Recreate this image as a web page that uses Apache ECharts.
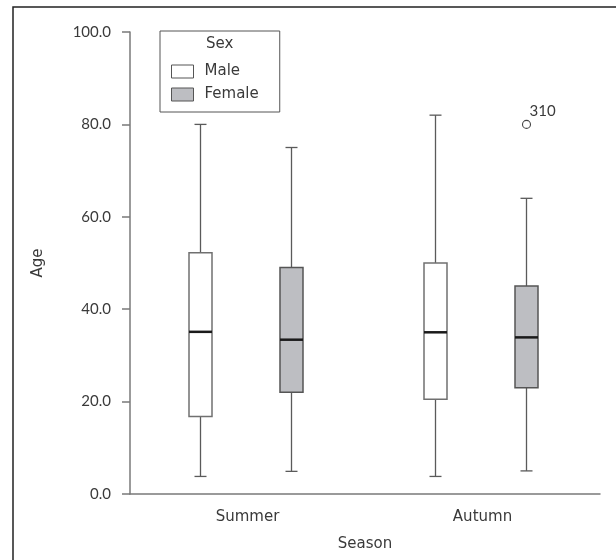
<!DOCTYPE html>
<html>
<head>
<meta charset="utf-8">
<script src="https://cdn.jsdelivr.net/npm/echarts@6/dist/echarts.min.js"></script>
<style>
html,body{margin:0;padding:0;background:#fff;}
#chart{width:616px;height:560px;}
</style>
</head>
<body>
<div id="chart"></div>
<script>
// categories and legend
const seasons = ['Summer', 'Autumn'];
const sexes = ['Male', 'Female'];
const yTicks = [0, 20, 40, 60, 80, 100];
// [min, Q1, median, Q3, max] per season
const maleStats = [
  [3.8, 16.8, 35.1, 52.2, 80.0],
  [3.8, 20.5, 35.0, 50.0, 82.0]
];
const femaleStats = [
  [4.9, 22.0, 33.4, 49.0, 75.0],
  [5.0, 23.0, 33.9, 45.0, 64.0]
];
// outliers: [seasonIndex, value, caseLabel]
const femaleOutliers = [[1, 80.0, '310']];

const NUMFONT = 'Lato, "DejaVu Sans", sans-serif';
const WORDFONT = '"DejaVu Sans", sans-serif';
const TXT = '#3a3a3a';
const AXIS = '#7a7a7a';

function boxRenderer(offsetPx, fill, stroke) {
  return function (params, api) {
    const cat = api.value(0);
    const pMin = api.coord([cat, api.value(1)]);
    const pQ1 = api.coord([cat, api.value(2)]);
    const pMed = api.coord([cat, api.value(3)]);
    const pQ3 = api.coord([cat, api.value(4)]);
    const pMax = api.coord([cat, api.value(5)]);
    const cx = pMin[0] + offsetPx;
    const w = 23, cap = 12;
    const wStyle = { stroke: '#5a5a5a', lineWidth: 1.3 };
    return {
      type: 'group',
      children: [
        { type: 'line', shape: { x1: cx, y1: pQ3[1], x2: cx, y2: pMax[1] }, style: wStyle },
        { type: 'line', shape: { x1: cx - cap / 2, y1: pMax[1], x2: cx + cap / 2, y2: pMax[1] }, style: wStyle },
        { type: 'line', shape: { x1: cx, y1: pQ1[1], x2: cx, y2: pMin[1] }, style: wStyle },
        { type: 'line', shape: { x1: cx - cap / 2, y1: pMin[1], x2: cx + cap / 2, y2: pMin[1] }, style: wStyle },
        { type: 'rect', shape: { x: cx - w / 2, y: pQ3[1], width: w, height: pQ1[1] - pQ3[1] },
          style: { fill: fill, stroke: stroke, lineWidth: 1.5 } },
        { type: 'line', shape: { x1: cx - w / 2, y1: pMed[1], x2: cx + w / 2, y2: pMed[1] },
          style: { stroke: '#1a1a1a', lineWidth: 2.5 } }
      ]
    };
  };
}

function outlierRenderer(offsetPx) {
  return function (params, api) {
    const p = api.coord([api.value(0), api.value(1)]);
    const cx = p[0] + offsetPx;
    return {
      type: 'group',
      children: [
        { type: 'circle', shape: { cx: cx, cy: p[1], r: 4 }, style: { fill: '#fff', stroke: '#444', lineWidth: 1.1 } },
        { type: 'text', style: { x: cx + 3, y: p[1] - 6, text: api.value(2), fill: TXT, font: '15px ' + NUMFONT,
          textAlign: 'left', textVerticalAlign: 'bottom' } }
      ]
    };
  };
}

const MALE_OFF = -47, FEMALE_OFF = 44;

const option = {
  animation: false,
  backgroundColor: '#fff',
  grid: { left: 130, top: 32, width: 470, height: 462 },
  legend: {
    data: [
      { name: sexes[0], icon: 'rect', itemStyle: { color: '#ffffff', borderColor: '#555', borderWidth: 1 } },
      { name: sexes[1], icon: 'rect', itemStyle: { color: '#bdbec2', borderColor: '#555', borderWidth: 1 } }
    ],
    orient: 'vertical',
    left: 160, top: 31,
    itemWidth: 22, itemHeight: 13, itemGap: 8,
    padding: [33, 21, 10, 11],
    borderColor: '#555', borderWidth: 1,
    textStyle: { fontFamily: WORDFONT, fontSize: 15, color: TXT, lineHeight: 13, padding: [0, 0, 0, 6] },
    selectedMode: false
  },
  graphic: [
    { type: 'rect', shape: { x: 13, y: 7, width: 640, height: 600 }, style: { fill: 'none', stroke: '#222', lineWidth: 1.5 }, silent: true },
    { type: 'text', left: 206, top: 37, style: { text: 'Sex', font: '15px ' + WORDFONT, fill: TXT } }
  ],
  xAxis: {
    type: 'category',
    data: seasons,
    name: 'Season',
    nameLocation: 'middle',
    nameGap: 43,
    nameTextStyle: { fontFamily: WORDFONT, fontSize: 15, color: TXT },
    axisLine: { lineStyle: { color: AXIS, width: 1.5 } },
    axisTick: { alignWithLabel: true, length: 8, lineStyle: { color: AXIS, width: 1.5 } },
    axisLabel: { fontFamily: WORDFONT, fontSize: 15, color: TXT, margin: 16 },
    splitLine: { show: false }
  },
  yAxis: {
    type: 'value',
    min: 0, max: 100, interval: 20,
    name: 'Age',
    nameLocation: 'middle',
    nameGap: 84,
    nameTextStyle: { fontFamily: WORDFONT, fontSize: 15, color: TXT },
    axisLine: { show: true, lineStyle: { color: AXIS, width: 1.5 } },
    axisTick: { show: true, length: 8, lineStyle: { color: AXIS, width: 1.5 } },
    axisLabel: { fontFamily: NUMFONT, fontSize: 15, color: TXT, margin: 19,
      formatter: v => v.toFixed(1) },
    splitLine: { show: false }
  },
  series: [
    { name: sexes[0], type: 'custom', renderItem: boxRenderer(MALE_OFF, '#ffffff', '#707070'),
      itemStyle: { color: '#ffffff', borderColor: '#555' },
      encode: { x: 0, y: [1, 2, 3, 4, 5] },
      data: maleStats.map((s, i) => [i].concat(s)) },
    { name: sexes[1], type: 'custom', renderItem: boxRenderer(FEMALE_OFF, '#bdbec2', '#555555'),
      itemStyle: { color: '#bdbec2', borderColor: '#555' },
      encode: { x: 0, y: [1, 2, 3, 4, 5] },
      data: femaleStats.map((s, i) => [i].concat(s)) },
    { name: 'Female outliers', type: 'custom', renderItem: outlierRenderer(FEMALE_OFF),
      encode: { x: 0, y: 1 },
      data: femaleOutliers }
  ]
};

const chart = echarts.init(document.getElementById('chart'), null, { renderer: 'canvas' });
chart.setOption(option);
</script>
</body>
</html>
